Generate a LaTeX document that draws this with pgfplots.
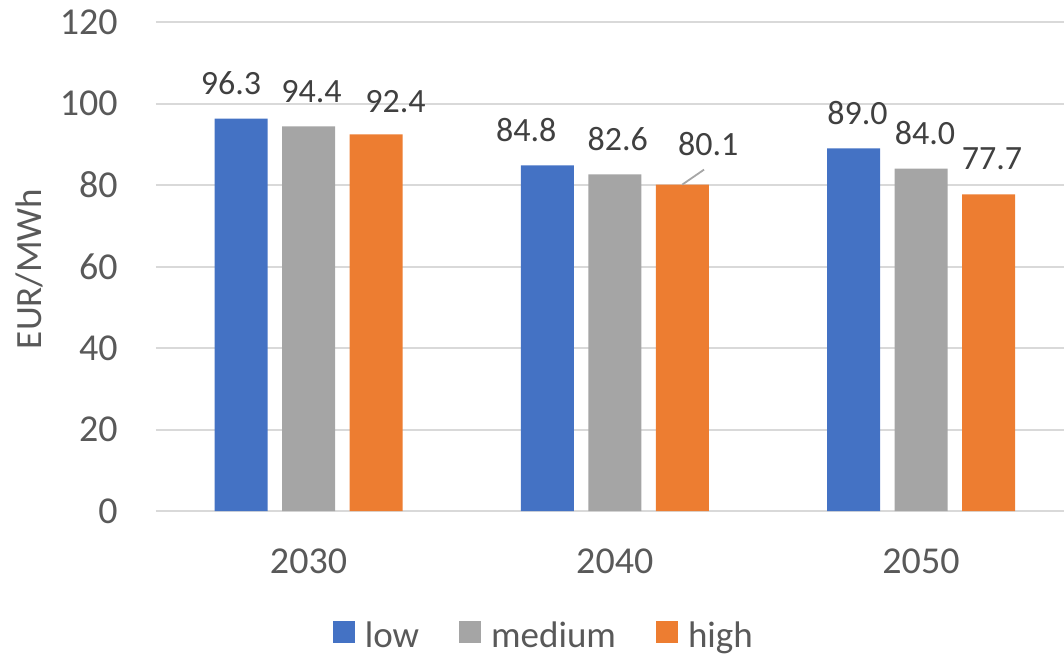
\documentclass[border=0pt]{standalone}
\usepackage{pgfplots}
\usepackage{pgfplotstable}
\pgfplotsset{compat=1.18}
\usepackage{fontspec}
\setmainfont{Carlito}

\definecolor{lowblue}{HTML}{4472C4}
\definecolor{medgray}{HTML}{A5A5A5}
\definecolor{highorange}{HTML}{ED7D31}
\definecolor{gridgray}{HTML}{D9D9D9}
\definecolor{ticktext}{HTML}{595959}
\definecolor{labeltext}{HTML}{404040}
\definecolor{leadergray}{HTML}{A6A6A6}

% x: 0 = 2030, 1 = 2040, 2 = 2050
% dx, dy: label offsets (pt) from the top centre of each bar
\pgfplotstableread{
x y    dx    dy
0 96.3 -5    0
1 84.8 -10.5 0
2 89.0 2     0
}\lowdata
\pgfplotstableread{
x y    dx  dy
0 94.4 1.5 0
1 82.6 1.5 0
2 84.0 2   0
}\meddata
\pgfplotstableread{
x y    dx   dy
0 92.4 9.75 -0.7
1 80.1 13   2.8
2 77.7 1.75 0.5
}\highdata

\pgfplotsset{
  sq legend/.style={legend image code/.code={\fill[##1,draw=none] (0pt,-3.5pt) rectangle (11pt,7.5pt);}},
  shifted labels/.style={
    visualization depends on={\thisrow{dx} \as \labdx},
    visualization depends on={\thisrow{dy} \as \labdy},
    every node near coord/.append style={xshift=\labdx pt, yshift=\labdy pt}},
}

\begin{document}
\begin{tikzpicture}
\path[use as bounding box] (-78pt,-72pt) rectangle (454pt,255.5pt);
\begin{axis}[
  at={(0,0)}, anchor=south west,
  scale only axis, width=454pt, height=244.5pt,
  xmin=-0.498, xmax=2.467, ymin=0, ymax=120,
  ytick={0,20,...,120},
  xtick={0,1,2}, xticklabels={2030,2040,2050},
  axis line style={draw=none},
  major tick length=0pt,
  ymajorgrids, grid style={line width=1pt, color=gridgray},
  /pgf/number format/assume math mode=true,
  tick label style={font=\fontsize{19}{22}\selectfont, text=ticktext},
  yticklabel style={anchor=east, inner sep=0pt, xshift=-19pt},
  xticklabel style={anchor=north, inner sep=0pt, yshift=-18.5pt},
  ylabel={EUR/MWh},
  every axis y label/.style={at={(axis description cs:-0.1256,0.495)}, rotate=90, anchor=base,
    font=\fontsize{18.5}{22}\selectfont, text=ticktext},
  ybar, bar width=26.5pt,
  nodes near coords={\pgfmathprintnumber[fixed,fixed zerofill,precision=1]{\pgfplotspointmeta}},
  every node near coord/.append style={font=\fontsize{17}{20}\selectfont, text=labeltext,
    inner sep=0pt, anchor=south, yshift=11.6pt},
  legend columns=3,
  legend style={at={(axis description cs:0.426,-0.2555)}, anchor=center,
    draw=none, fill=none, font=\fontsize{18.5}{21}\selectfont, text=ticktext,
    nodes={inner sep=0pt},
    /tikz/every odd column/.append style={column sep=5pt},
    /tikz/every even column/.append style={column sep=20pt}},
]
\addplot[fill=lowblue, draw=none, bar shift=-33.75pt, sq legend, shifted labels]
  table[x=x, y=y] {\lowdata};
\addlegendentry{low}
\addplot[fill=medgray, draw=none, bar shift=0pt, sq legend, shifted labels]
  table[x=x, y=y] {\meddata};
\addlegendentry{medium}
\addplot[fill=highorange, draw=none, bar shift=33.75pt, sq legend, shifted labels]
  table[x=x, y=y] {\highdata};
\addlegendentry{high}
% leader line from the 2040 high bar to its label
\draw[leadergray, line width=0.9pt] ([xshift=33.75pt]axis cs:1,80.1) -- ++(10.9pt,7.5pt);
\end{axis}
\end{tikzpicture}
\end{document}
